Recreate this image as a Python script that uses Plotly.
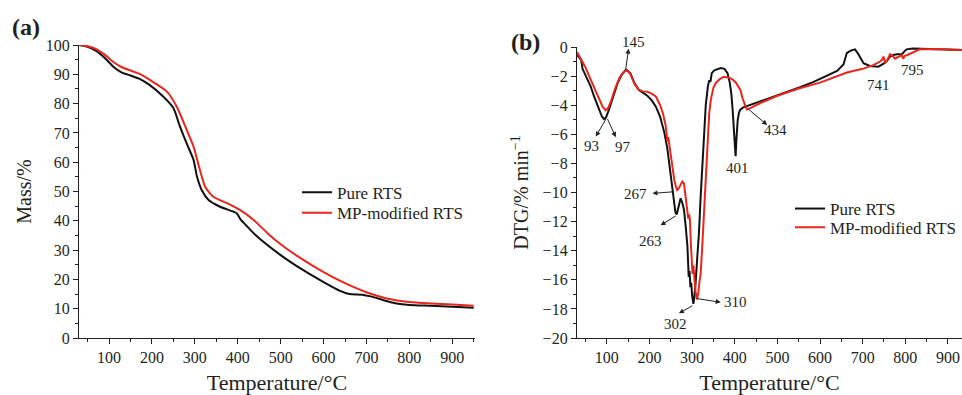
import plotly.graph_objects as go

# ---------------- Data ----------------
# (a) TG curves
tg_T_pure = [30, 50, 70, 90, 110, 130, 150, 170, 195, 225, 250, 265, 281, 297, 305, 316, 332, 359, 390, 398, 406,
             420, 444, 500, 550, 600, 640, 660, 690, 710, 740, 770, 800, 850, 900, 950]
tg_pure = [100, 99.4, 98.0, 95.6, 92.6, 90.6, 89.6, 88.5, 86.3, 82.6, 78.5, 72.3, 66.4, 60.8, 55.1, 50.5, 47.1, 44.8,
           43.1, 42.5, 40.6, 38.4, 34.8, 28.3, 23.4, 19.1, 16.0, 15.0, 14.8, 14.2, 12.9, 11.8, 11.3, 11.0, 10.7, 10.3]

tg_T_mp = [30, 50, 70, 90, 110, 130, 150, 170, 196, 235, 258, 281, 297, 312, 324, 343, 375, 405, 437, 470, 500,
           550, 600, 650, 700, 750, 800, 850, 900, 950]
tg_mp = [100, 99.6, 98.6, 96.7, 94.2, 92.4, 91.3, 90.2, 88.0, 84.1, 78.9, 71.0, 65.3, 57.3, 51.6, 48.2, 46.0, 43.7,
         40.3, 35.7, 32.0, 26.9, 22.5, 18.7, 15.6, 13.4, 12.3, 11.8, 11.4, 11.0]

# (b) DTG curves
dtg_T_pure = [30, 35, 40, 43, 48, 55, 62, 70, 80, 88, 93, 98, 105, 115, 125, 135, 145, 155, 165, 175, 185, 195,
              205, 215, 225, 235, 242, 250, 254, 257, 261, 264, 268, 273, 277, 281, 285, 289, 292, 294, 296, 298,
              300, 303, 305, 308, 312, 316, 320, 324, 328, 332, 337, 340, 343, 346, 352, 360, 367, 376, 383, 388,
              392, 395, 398, 400, 402, 404, 407, 410, 413, 420, 430, 450, 500, 550, 585, 620, 640, 655, 663, 672,
              682, 688, 694, 702, 717, 737, 749, 757, 764, 772, 780, 792, 798, 803, 818, 850, 900, 933]
dtg_pure = [-0.55, -0.75, -0.9, -1.5, -1.8, -2.2, -2.7, -3.4, -4.2, -4.75, -4.95, -4.85, -4.3, -3.4, -2.5, -1.9, -1.55,
            -1.8, -2.5, -2.95, -3.15, -3.35, -3.65, -4.1, -4.8, -5.9, -7.0, -8.9, -9.8, -10.75, -11.4, -11.5, -11.0,
            -10.4, -10.7, -11.2, -12.35, -13.7, -15.8, -15.4, -16.5, -16.2, -17.1, -17.65, -17.2, -16.3, -14.5,
            -12.8, -10.3, -8.0, -5.9, -4.0, -2.7, -2.3, -2.4, -1.8, -1.6, -1.5, -1.45, -1.5, -1.8, -2.4, -3.2, -4.3,
            -6.0, -7.2, -7.5, -6.3, -5.0, -4.5, -4.3, -4.15, -4.05, -3.8, -3.3, -2.8, -2.4, -1.95, -1.65, -1.2,
            -0.4, -0.25, -0.16, -0.4, -0.7, -1.12, -1.3, -1.35, -1.15, -0.95, -0.66, -0.55, -0.5, -0.5, -0.3, -0.16,
            -0.1, -0.13, -0.18, -0.2]

dtg_T_mp = [30, 35, 40, 45, 50, 60, 70, 80, 90, 97, 103, 110, 120, 130, 140, 148, 155, 165, 175, 185, 195, 205, 215,
            225, 232, 238, 242, 244, 247, 250, 254, 258, 262, 265, 268, 272, 277, 281, 284, 287, 289, 291, 293, 295,
            297, 299, 301, 303, 305, 308, 311, 314, 317, 320, 324, 328, 332, 336, 340, 344, 350, 356, 365, 374, 385,
            394, 403, 410, 414, 418, 422, 426, 429, 434, 440, 460, 500, 550, 600, 663, 700, 725, 741, 746, 749, 753,
            758, 764, 770, 776, 782, 788, 792, 795, 799, 805, 818, 834, 870, 900, 933]
dtg_mp = [-0.35, -0.6, -0.8, -1.1, -1.4, -2.1, -2.8, -3.5, -4.1, -4.35, -4.2, -3.7, -2.8, -2.1, -1.7, -1.6, -1.85,
          -2.55, -2.95, -3.05, -3.07, -3.2, -3.4, -4.0, -4.6, -5.4, -6.5, -6.2, -6.9, -7.6, -8.4, -9.1, -9.6, -9.83,
          -9.75, -9.5, -9.25, -9.4, -10.1, -10.5, -11.0, -11.8, -11.5, -11.9, -13.5, -15.3, -15.6, -15.0, -16.1,
          -16.8, -17.35, -17.0, -16.2, -15.6, -13.6, -11.2, -8.6, -6.2, -4.6, -3.6, -2.8, -2.45, -2.2, -2.05, -2.1,
          -2.2, -2.45, -2.8, -3.0, -3.5, -3.9, -4.15, -4.3, -4.25, -4.15, -3.85, -3.35, -2.85, -2.45, -1.75, -1.5,
          -1.25, -1.0, -0.85, -0.66, -1.1, -0.9, -0.5, -0.6, -0.8, -0.7, -0.66, -0.55, -0.8, -0.6, -0.55, -0.35,
          -0.16, -0.14, -0.18, -0.2]

# Peak annotations for (b): (label, x, y)
peak_labels = [("145", 162, 0.35), ("93", 65, -6.8), ("97", 139, -6.9), ("267", 168, -10.1), ("263", 203, -13.3),
               ("302", 261, -19.05), ("310", 402, -17.55), ("401", 407.5, -8.35), ("434", 495, -5.7),
               ("741", 737, -2.62), ("795", 817, -1.6)]
# arrows: (tail_x, tail_y, head_x, head_y)
peak_arrows = [(144, -1.6, 151, -0.12), (100, -4.85, 74, -6.15), (100, -4.85, 121, -6.2),
               (261, -9.94, 207, -10.06), (265, -11.55, 226, -12.25), (304, -17.73, 269, -18.3),
               (308, -17.27, 367, -17.55), (429, -4.2, 476, -5.36)]

FONT = "Liberation Serif"
INK = "#231f20"
BLACK = "#111111"
RED = "#e8261c"

# full window; the page's default body margin is removed after plotting
W, H, OFF = 962, 395, 0


def px(xr):
    return (xr - OFF) / W


def py(yr):
    return 1 - (yr - OFF) / H


fig = go.Figure()
fig.add_trace(go.Scatter(x=tg_T_pure, y=tg_pure, mode="lines", name="Pure RTS",
                         line=dict(color=BLACK, width=2, shape="spline", smoothing=0.6),
                         xaxis="x", yaxis="y", legend="legend"))
fig.add_trace(go.Scatter(x=tg_T_mp, y=tg_mp, mode="lines", name="MP-modified RTS",
                         line=dict(color=RED, width=2, shape="spline", smoothing=0.6),
                         xaxis="x", yaxis="y", legend="legend2"))
fig.add_trace(go.Scatter(x=dtg_T_pure, y=dtg_pure, mode="lines", name="Pure RTS",
                         line=dict(color=BLACK, width=2),
                         xaxis="x2", yaxis="y2", legend="legend3"))
fig.add_trace(go.Scatter(x=dtg_T_mp, y=dtg_mp, mode="lines", name="MP-modified RTS",
                         line=dict(color=RED, width=2),
                         xaxis="x2", yaxis="y2", legend="legend4"))

axis_common = dict(showline=True, linecolor=INK, linewidth=1.3, ticks="outside", ticklen=5, tickwidth=1.2,
                   tickcolor=INK, showgrid=False, zeroline=False, automargin=False, ticklabeloverflow="allow",
                   tickfont=dict(family=FONT, size=16, color=INK))


def leg(xr, yr):
    return dict(x=px(xr), y=py(yr), xanchor="left", yanchor="middle", bgcolor="rgba(0,0,0,0)",
                font=dict(family=FONT, size=17, color=INK), itemwidth=30, borderwidth=0)


fig.update_layout(
    width=W, height=H,
    margin=dict(l=0, r=0, t=0, b=0),
    paper_bgcolor="white", plot_bgcolor="white",
    font=dict(family=FONT, color=INK),
    xaxis=dict(domain=[px(79), px(475)], range=[30, 953], tick0=0, dtick=100, anchor="y",
               minor=dict(dtick=50, tick0=0, ticks="outside", ticklen=3, tickcolor=INK, showgrid=False),
               title=dict(text="Temperature/°C", font=dict(family=FONT, size=22, color=INK), standoff=9),
               **axis_common),
    yaxis=dict(domain=[py(338), py(45)], range=[0, 100], tick0=0, dtick=10, anchor="x",
               minor=dict(dtick=5, tick0=0, ticks="outside", ticklen=3, tickcolor=INK, showgrid=False),
               title=dict(text="Mass/%", font=dict(family=FONT, size=20, color=INK), standoff=8),
               **axis_common),
    xaxis2=dict(domain=[px(577), 1.0], range=[30, 933], tick0=0, dtick=100, anchor="y2",
                minor=dict(dtick=50, tick0=0, ticks="outside", ticklen=3, tickcolor=INK, showgrid=False),
                title=dict(text="Temperature/°C", font=dict(family=FONT, size=22, color=INK), standoff=9),
                **axis_common),
    yaxis2=dict(domain=[py(338), py(47)], range=[-20, 0], tick0=0, dtick=2, anchor="x2",
                minor=dict(dtick=1, tick0=0, ticks="outside", ticklen=3, tickcolor=INK, showgrid=False),
                title=dict(text="DTG/% min<sup>−1</sup>", font=dict(family=FONT, size=20, color=INK), standoff=8),
                **axis_common),
    legend=leg(297, 192.7),
    legend2=leg(297, 213.3),
    legend3=leg(790, 209),
    legend4=leg(790, 227.7),
    showlegend=True,
)

annotations = [
    dict(text="<b>(a)</b>", x=px(26), y=py(27), xref="paper", yref="paper", xanchor="center", yanchor="middle",
         showarrow=False, font=dict(family=FONT, size=24, color=INK)),
    dict(text="<b>(b)</b>", x=px(525), y=py(42), xref="paper", yref="paper", xanchor="center", yanchor="middle",
         showarrow=False, font=dict(family=FONT, size=24, color=INK)),
]
for lab, lx, ly in peak_labels:
    if ly > 0:
        # above the top of the axis range: place relative to the axis domain so it is not hidden
        annotations.append(dict(text=lab, x=lx, y=(ly + 20) / 20, xref="x2", yref="y2 domain", showarrow=False,
                                xanchor="center", yanchor="middle", font=dict(family=FONT, size=15, color=INK)))
    else:
        annotations.append(dict(text=lab, x=lx, y=ly, xref="x2", yref="y2", showarrow=False,
                                xanchor="center", yanchor="middle", font=dict(family=FONT, size=15, color=INK)))
for tx, ty, hx, hy in peak_arrows:
    annotations.append(dict(text="", x=hx, y=hy, ax=tx, ay=ty, xref="x2", yref="y2", axref="x2", ayref="y2",
                            showarrow=True, arrowhead=2, arrowsize=1, arrowwidth=1, arrowcolor=INK,
                            standoff=0, startstandoff=0))
fig.update_layout(annotations=annotations)

fig.write_html("out.html", config={"displayModeBar": False},
               post_script="document.body.style.margin='0';document.body.style.overflow='hidden';")
